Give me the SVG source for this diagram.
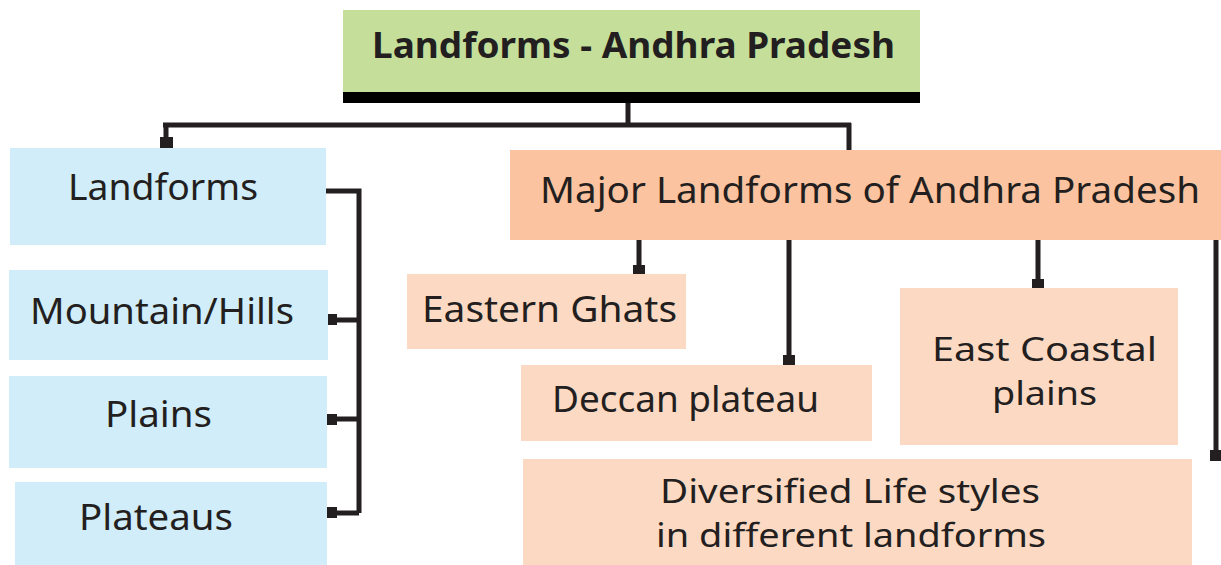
<svg xmlns="http://www.w3.org/2000/svg" width="1221" height="565" viewBox="0 0 1221 565">
<style>
text{font-family:"Noto Sans","Open Sans","DejaVu Sans",sans-serif;fill:#231f20;font-size:36px}
.t{font-weight:bold;font-size:35px}
.two{font-size:32px}
.blue{fill:#d1edf9}
.hdr{fill:#fbc39f}
.lt{fill:#fcd9c3}
.ln{fill:none;stroke:#231f20;stroke-width:5}
.sq{fill:#231f20}
</style>
<rect width="1221" height="565" fill="#ffffff"/>
<g id="connectors">
<path class="ln" d="M628,103 V125 M163,125 H851 M166,125 V146 M849,123 V150"/>
<rect class="sq" x="160" y="137" width="13" height="11"/>
<path class="ln" d="M326,191 H359 V513 M334,320 H359 M334,419 H359 M334,513 H359"/>
<rect class="sq" x="325" y="314" width="12" height="11"/>
<rect class="sq" x="325" y="414" width="12" height="11"/>
<rect class="sq" x="325" y="507" width="12" height="11"/>
<path class="ln" d="M639,240 V270 M789,240 V360 M1038,240 V284 M1216,240 V455"/>
<rect class="sq" x="633" y="265" width="12" height="10"/>
<rect class="sq" x="783" y="355" width="12" height="10"/>
<rect class="sq" x="1032" y="279" width="12" height="10"/>
<rect class="sq" x="1210" y="450" width="11" height="11"/>
</g>
<g id="title">
<rect x="343" y="10" width="577" height="83" fill="#c5df9b"/>
<rect x="343" y="92" width="577" height="11" fill="#000000"/>
<text class="t" x="372" y="58" textLength="523" lengthAdjust="spacingAndGlyphs">Landforms - Andhra Pradesh</text>
</g>
<g id="landforms">
<rect class="blue" x="10" y="148" width="316" height="97"/>
<text x="68" y="200" textLength="190" lengthAdjust="spacingAndGlyphs">Landforms</text>
</g>
<g id="mountain">
<rect class="blue" x="9" y="270" width="319" height="90"/>
<text x="30" y="324" textLength="264" lengthAdjust="spacingAndGlyphs">Mountain/Hills</text>
</g>
<g id="plains">
<rect class="blue" x="9" y="376" width="318" height="92"/>
<text x="105" y="427" textLength="107" lengthAdjust="spacingAndGlyphs">Plains</text>
</g>
<g id="plateaus">
<rect class="blue" x="15" y="482" width="312" height="83"/>
<text x="79" y="530" textLength="154" lengthAdjust="spacingAndGlyphs">Plateaus</text>
</g>
<g id="major">
<rect class="hdr" x="510" y="150" width="711" height="90"/>
<text x="540" y="203" textLength="660" lengthAdjust="spacingAndGlyphs">Major Landforms of Andhra Pradesh</text>
</g>
<g id="eastern-ghats">
<rect class="lt" x="407" y="274" width="279" height="75"/>
<text x="422" y="322" textLength="255" lengthAdjust="spacingAndGlyphs">Eastern Ghats</text>
</g>
<g id="deccan">
<rect class="lt" x="521" y="365" width="351" height="76"/>
<text x="552" y="412" textLength="267" lengthAdjust="spacingAndGlyphs">Deccan plateau</text>
</g>
<g id="east-coastal">
<rect class="lt" x="900" y="288" width="278" height="157"/>
<text class="two" x="932" y="361" textLength="225" lengthAdjust="spacingAndGlyphs">East Coastal</text>
<text class="two" x="992" y="405" textLength="105" lengthAdjust="spacingAndGlyphs">plains</text>
</g>
<g id="diversified">
<rect class="lt" x="523" y="459" width="669" height="106"/>
<text class="two" x="660" y="503" textLength="380" lengthAdjust="spacingAndGlyphs">Diversified Life styles</text>
<text class="two" x="656" y="547" textLength="390" lengthAdjust="spacingAndGlyphs">in different landforms</text>
</g>
</svg>
